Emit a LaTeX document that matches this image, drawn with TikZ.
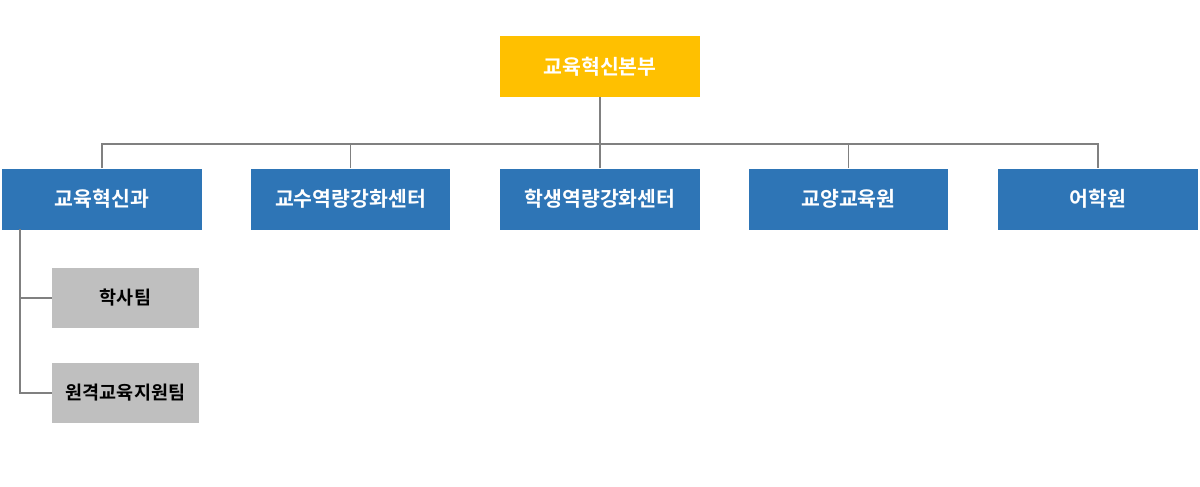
\documentclass[tikz,border=0pt]{standalone}
\usepackage{fontspec}
\newfontfamily\kr{Noto Sans CJK KR Bold}
\definecolor{ylw}{HTML}{FFC000}
\definecolor{blu}{HTML}{2E75B6}
\definecolor{gry}{HTML}{BFBFBF}
\definecolor{lin}{HTML}{808080}
\begin{document}
\begin{tikzpicture}[x=1pt,y=-1pt,
  box/.style={minimum width=200pt,minimum height=61pt,inner sep=0pt,font=\kr\fontsize{20.5}{24}\selectfont},
  top/.style={box,fill=ylw,text=white},
  dept/.style={box,fill=blu,text=white},
  team/.style={box,fill=gry,text=black,minimum width=147pt,minimum height=60pt,font=\kr\fontsize{18.5}{22}\selectfont},
  conn/.style={draw=lin,line width=1.2pt}]
\useasboundingbox (0,0) rectangle (1200,487);
\node[top] (hq) at (600,66.5) {교육혁신본부};
\node[dept] (d1) at (102,199) {교육혁신과};
\node[dept,minimum width=199pt] (d2) at (350.5,199) {교수역량강화센터};
\node[dept] (d3) at (600,199) {학생역량강화센터};
\node[dept,minimum width=199pt] (d4) at (848.5,199) {교양교육원};
\node[dept] (d5) at (1098,199) {어학원};
\node[team] (t1) at (125.5,298) {학사팀};
\node[team] (t2) at (125.5,393) {원격교육지원팀};
\coordinate (bus) at (600,144);
\draw[conn] (hq.south) -- (bus);
\draw[conn] (d1.north) |- (bus) -| (d5.north);
\draw[conn] (d2.north) -- (d2.north |- bus);
\draw[conn] (d3.north) -- (bus);
\draw[conn] (d4.north) -- (d4.north |- bus);
\coordinate (lv) at (20,229);
\draw[conn] (lv) |- (t1.west);
\draw[conn] (lv) |- (t2.west);
\end{tikzpicture}
\end{document}
